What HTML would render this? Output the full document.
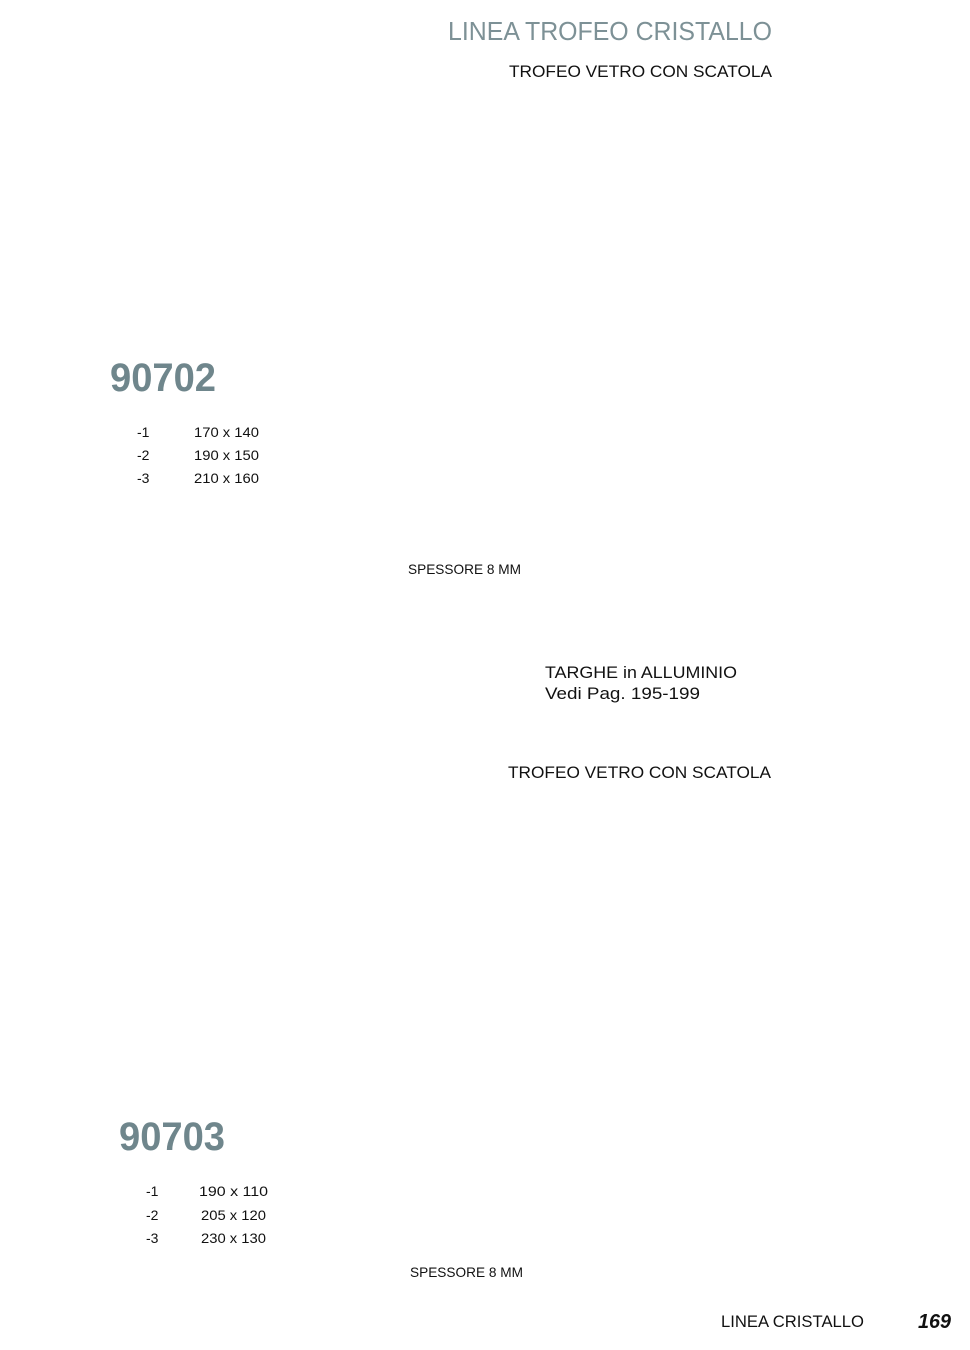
<!DOCTYPE html>
<html><head><meta charset="utf-8"><style>
html,body{margin:0;padding:0;background:#fff;}
svg{display:block;}
text{font-family:"Liberation Sans",sans-serif;}
</style></head><body>
<svg width="970" height="1350" viewBox="0 0 970 1350" xmlns="http://www.w3.org/2000/svg">
<text x="448" y="40" font-size="26" fill="#7d9196" textLength="324" lengthAdjust="spacingAndGlyphs">LINEA TROFEO CRISTALLO</text>
<text x="509" y="77" font-size="17" fill="#111" textLength="263" lengthAdjust="spacingAndGlyphs">TROFEO VETRO CON SCATOLA</text>

<text x="110" y="391" font-size="40" font-weight="bold" fill="#6f868c" textLength="106" lengthAdjust="spacingAndGlyphs">90702</text>
<g font-size="14" fill="#111">
<text x="137" y="437">-1</text><text x="194" y="437" textLength="65" lengthAdjust="spacingAndGlyphs">170 x 140</text>
<text x="137" y="460">-2</text><text x="194" y="460" textLength="65" lengthAdjust="spacingAndGlyphs">190 x 150</text>
<text x="137" y="483">-3</text><text x="194" y="483" textLength="65" lengthAdjust="spacingAndGlyphs">210 x 160</text>
<text x="408" y="574" textLength="113" lengthAdjust="spacingAndGlyphs">SPESSORE 8 MM</text>
</g>
<text x="545" y="678" font-size="17" fill="#111" textLength="192" lengthAdjust="spacingAndGlyphs">TARGHE  in ALLUMINIO</text>
<text x="545" y="699" font-size="17" fill="#111" textLength="155" lengthAdjust="spacingAndGlyphs">Vedi Pag. 195-199</text>
<text x="508" y="778" font-size="17" fill="#111" textLength="263" lengthAdjust="spacingAndGlyphs">TROFEO VETRO CON SCATOLA</text>

<text x="119" y="1150" font-size="40" font-weight="bold" fill="#6f868c" textLength="106" lengthAdjust="spacingAndGlyphs">90703</text>
<g font-size="14" fill="#111">
<text x="146" y="1196">-1</text><text x="199" y="1196" textLength="69" lengthAdjust="spacingAndGlyphs">190  x 110</text>
<text x="146" y="1220">-2</text><text x="201" y="1220" textLength="65" lengthAdjust="spacingAndGlyphs">205 x 120</text>
<text x="146" y="1243">-3</text><text x="201" y="1243" textLength="65" lengthAdjust="spacingAndGlyphs">230 x 130</text>
<text x="410" y="1277" textLength="113" lengthAdjust="spacingAndGlyphs">SPESSORE 8 MM</text>
</g>
<text x="721" y="1327" font-size="17" fill="#111" textLength="143" lengthAdjust="spacingAndGlyphs">LINEA CRISTALLO</text>
<text x="918" y="1328" font-size="20" font-weight="bold" font-style="italic" fill="#111" textLength="33" lengthAdjust="spacingAndGlyphs">169</text>
</svg>
</body></html>
